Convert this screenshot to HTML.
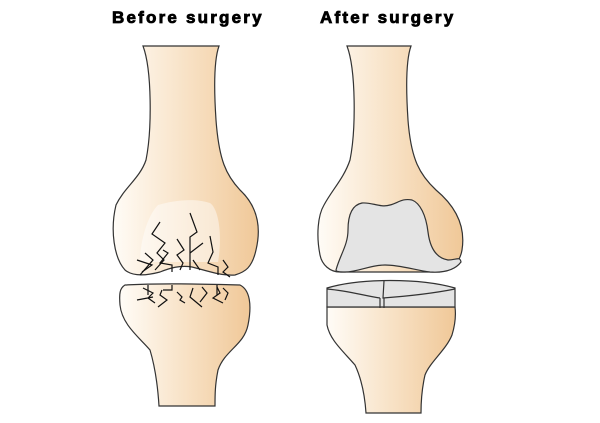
<!DOCTYPE html>
<html><head><meta charset="utf-8"><style>
html,body{margin:0;padding:0;background:#fff;width:600px;height:423px;overflow:hidden}
text{font-family:"Liberation Sans",Arial,sans-serif;font-weight:bold;font-size:17px;letter-spacing:2.2px;stroke:#000;stroke-width:0.8px}
</style></head><body>
<svg width="600" height="423" viewBox="0 0 600 423" xmlns="http://www.w3.org/2000/svg">
<defs>
<linearGradient id="g" x1="0" x2="1" y1="0" y2="0">
<stop offset="0" stop-color="#fffcf7"/><stop offset="0.5" stop-color="#f8e2c6"/><stop offset="1" stop-color="#f0c898"/>
</linearGradient>
</defs>
<text x="112" y="23">Before surgery</text>
<text x="320" y="23">After surgery</text>
<g stroke="#333" stroke-width="1.2" fill="url(#g)">
<path d="M143 46 L219 46 C214 60 214 90 216 120 C219 160 226 175 240 190 C256 205 262 225 256 250 C252 268 245 272 235 275 C220 276 205 270 192 267 C180 265 170 268 160 272 C145 276 132 276 125 270 C114 258 110 230 116 205 C124 188 140 178 146 160 C152 130 152 70 143 46 Z"/>
<path d="M125 285 C160 283 200 284 240 285 C250 290 252 305 248 325 C244 345 225 350 218 370 C215 385 215 395 215 406 L159 406 C158 390 156 370 150 350 C140 338 122 325 120 305 C119 293 120 288 125 285 Z"/>
<path d="M347 46 L411 46 C406 60 406 90 408 120 C411 160 420 175 436 190 C454 205 466 225 462 250 C460 262 452 270 440 272 L340 272 C330 272 322 265 320 255 C316 235 318 215 324 205 C332 190 344 178 350 160 C356 130 356 70 347 46 Z"/>
<path d="M327 307 L455 307 C456 315 455 325 452 335 C446 350 430 362 425 375 C422 388 421 400 421 413 L366 413 C365 398 362 380 355 365 C342 350 330 340 327 325 Z"/>
</g>
<path d="M158 205 C175 200 195 198 210 203 C220 210 222 240 218 262 L140 262 C140 240 148 215 158 205 Z" fill="#fff" opacity="0.45"/>
<g stroke="#333" stroke-width="1.2" fill="#e4e4e4">
<path d="M336 270 C340 255 348 245 348 230 C348 215 352 205 362 203 C372 202 380 208 390 205 C398 203 402 198 412 200 C420 203 426 215 428 232 C430 248 436 258 448 260 C456 260 460 256 461 262 C455 270 445 273 430 272 C415 270 400 265 385 265 C370 265 358 272 345 272 C340 272 336 272 336 270 Z"/>
<path d="M327 288 C360 278 420 278 455 288 L455 307 L327 307 Z"/>
<path d="M327 289 C350 291 365 296 380 298 M384 281 L383 298 C410 296 435 293 455 289" fill="none"/>
<path d="M380 298 L380 308 M384 298 L384 308" fill="none"/>
</g>
<g stroke="#111" stroke-width="1.2" fill="none">
<path d="M160 222 L152 234 L165 243 L157 253 L164 260 L155 270"/>
<path d="M190 213 L197 232 L190 237 L190 270"/>
<path d="M177 239 L184 250 L177 255 L183 263 L180 270"/>
<path d="M210 236 L213 252 L208 263 L218 267 L218 275"/>
<path d="M223 260 L228 267 L223 272 L230 277"/>
<path d="M137 260 L152 265 L142 272"/>
<path d="M145 253 L153 260 L140 275"/>
<path d="M190 253 L203 243 M193 260 L200 270"/>
<path d="M163 250 L168 253 L160 263 L172 265 L172 272"/>
<path d="M143 288 L153 293 L148 298 L155 303 M137 300 L153 297"/>
<path d="M162 290 L160 295 L167 300 L158 307"/>
<path d="M163 290 L172 290 L172 285"/>
<path d="M177 292 L182 297 L180 300 L185 303"/>
<path d="M193 288 L190 297 L202 307"/>
<path d="M202 287 L207 293 L200 302"/>
<path d="M217 287 L220 293 L213 298 L223 303"/>
<path d="M223 288 L228 293 L225 300"/>
<path d="M217 285 L217 295 M148 285 L148 295"/>
</g>
</svg>
</body></html>
